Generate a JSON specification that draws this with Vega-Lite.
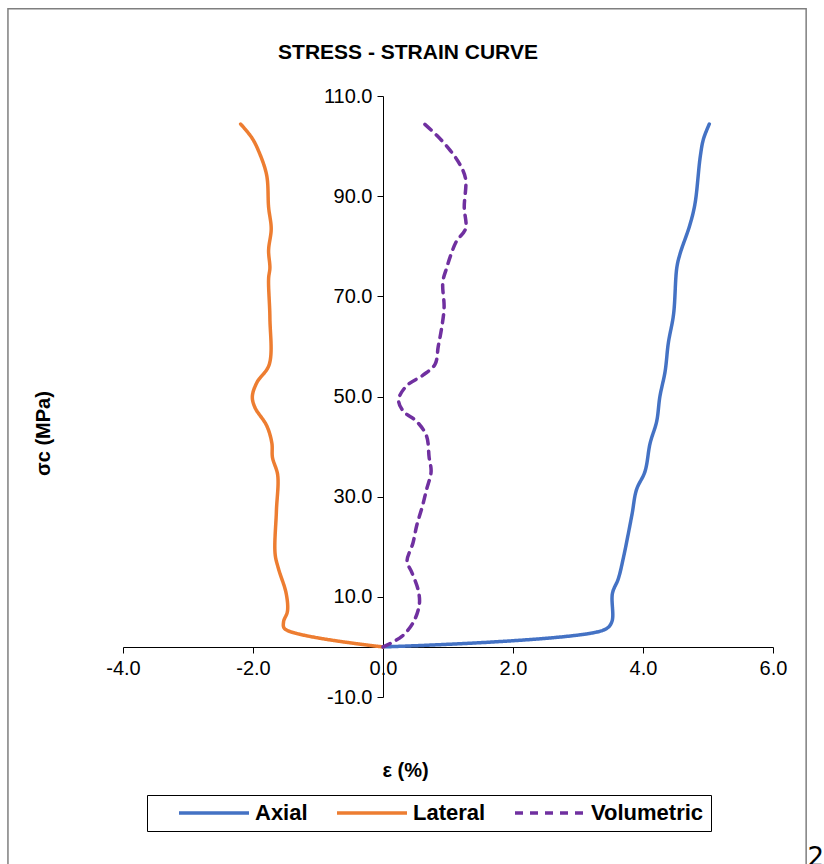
{
  "$schema": "https://vega.github.io/schema/vega-lite/v6.json",
  "width": 650,
  "height": 601,
  "autosize": {"type": "none"},
  "padding": {"left": 123, "top": 96, "right": 51, "bottom": 167},
  "background": "white",
  "config": {
    "view": {"stroke": null},
    "font": "Liberation Sans"
  },
  "title": {
    "text": "STRESS - STRAIN CURVE",
    "font": "Liberation Sans",
    "fontSize": 21,
    "fontWeight": "bold",
    "color": "black",
    "frame": "group",
    "anchor": "middle",
    "dx": -40,
    "offset": -55
  },
  "datasets": {
    "curves": [
      {"s": "Axial", "i": 0, "x": 0, "y": 0},
      {"s": "Axial", "i": 1, "x": 3.4, "y": 3.4},
      {"s": "Axial", "i": 2, "x": 3.52, "y": 5.0},
      {"s": "Axial", "i": 3, "x": 3.53, "y": 10.7},
      {"s": "Axial", "i": 4, "x": 3.62, "y": 13.6},
      {"s": "Axial", "i": 5, "x": 3.70, "y": 17.9},
      {"s": "Axial", "i": 6, "x": 3.83, "y": 26.4},
      {"s": "Axial", "i": 7, "x": 3.90, "y": 31.4},
      {"s": "Axial", "i": 8, "x": 4.03, "y": 35.0},
      {"s": "Axial", "i": 9, "x": 4.11, "y": 40.7},
      {"s": "Axial", "i": 10, "x": 4.21, "y": 45.0},
      {"s": "Axial", "i": 11, "x": 4.26, "y": 50.0},
      {"s": "Axial", "i": 12, "x": 4.34, "y": 55.0},
      {"s": "Axial", "i": 13, "x": 4.39, "y": 60.7},
      {"s": "Axial", "i": 14, "x": 4.47, "y": 66.4},
      {"s": "Axial", "i": 15, "x": 4.52, "y": 75.7},
      {"s": "Axial", "i": 16, "x": 4.57, "y": 78.5},
      {"s": "Axial", "i": 17, "x": 4.72, "y": 84.2},
      {"s": "Axial", "i": 18, "x": 4.80, "y": 88.5},
      {"s": "Axial", "i": 19, "x": 4.88, "y": 97.8},
      {"s": "Axial", "i": 20, "x": 4.93, "y": 101.4},
      {"s": "Axial", "i": 21, "x": 5.02, "y": 104.4},
      {"s": "Lateral", "i": 0, "x": 0, "y": 0},
      {"s": "Lateral", "i": 1, "x": -1.51, "y": 3.6},
      {"s": "Lateral", "i": 2, "x": -1.53, "y": 5.0},
      {"s": "Lateral", "i": 3, "x": -1.47, "y": 7.1},
      {"s": "Lateral", "i": 4, "x": -1.49, "y": 10.7},
      {"s": "Lateral", "i": 5, "x": -1.61, "y": 15.7},
      {"s": "Lateral", "i": 6, "x": -1.66, "y": 18.6},
      {"s": "Lateral", "i": 7, "x": -1.64, "y": 27.1},
      {"s": "Lateral", "i": 8, "x": -1.62, "y": 34.3},
      {"s": "Lateral", "i": 9, "x": -1.70, "y": 37.8},
      {"s": "Lateral", "i": 10, "x": -1.71, "y": 40.7},
      {"s": "Lateral", "i": 11, "x": -1.79, "y": 44.2},
      {"s": "Lateral", "i": 12, "x": -1.97, "y": 47.8},
      {"s": "Lateral", "i": 13, "x": -2.01, "y": 50.0},
      {"s": "Lateral", "i": 14, "x": -1.94, "y": 52.8},
      {"s": "Lateral", "i": 15, "x": -1.75, "y": 56.4},
      {"s": "Lateral", "i": 16, "x": -1.74, "y": 65.7},
      {"s": "Lateral", "i": 17, "x": -1.76, "y": 73.5},
      {"s": "Lateral", "i": 18, "x": -1.74, "y": 75.7},
      {"s": "Lateral", "i": 19, "x": -1.76, "y": 79.2},
      {"s": "Lateral", "i": 20, "x": -1.72, "y": 83.5},
      {"s": "Lateral", "i": 21, "x": -1.76, "y": 87.8},
      {"s": "Lateral", "i": 22, "x": -1.79, "y": 94.2},
      {"s": "Lateral", "i": 23, "x": -1.92, "y": 99.2},
      {"s": "Lateral", "i": 24, "x": -2.02, "y": 101.7},
      {"s": "Lateral", "i": 25, "x": -2.19, "y": 104.4},
      {"s": "Volumetric", "i": 0, "x": 0, "y": 0},
      {"s": "Volumetric", "i": 1, "x": 0.29, "y": 2.1},
      {"s": "Volumetric", "i": 2, "x": 0.47, "y": 5.0},
      {"s": "Volumetric", "i": 3, "x": 0.56, "y": 8.6},
      {"s": "Volumetric", "i": 4, "x": 0.54, "y": 11.4},
      {"s": "Volumetric", "i": 5, "x": 0.44, "y": 15.0},
      {"s": "Volumetric", "i": 6, "x": 0.37, "y": 17.1},
      {"s": "Volumetric", "i": 7, "x": 0.46, "y": 20.7},
      {"s": "Volumetric", "i": 8, "x": 0.52, "y": 24.3},
      {"s": "Volumetric", "i": 9, "x": 0.60, "y": 27.8},
      {"s": "Volumetric", "i": 10, "x": 0.67, "y": 31.4},
      {"s": "Volumetric", "i": 11, "x": 0.74, "y": 35.0},
      {"s": "Volumetric", "i": 12, "x": 0.71, "y": 37.8},
      {"s": "Volumetric", "i": 13, "x": 0.67, "y": 42.1},
      {"s": "Volumetric", "i": 14, "x": 0.52, "y": 45.0},
      {"s": "Volumetric", "i": 15, "x": 0.31, "y": 47.1},
      {"s": "Volumetric", "i": 16, "x": 0.24, "y": 49.3},
      {"s": "Volumetric", "i": 17, "x": 0.36, "y": 52.1},
      {"s": "Volumetric", "i": 18, "x": 0.62, "y": 54.3},
      {"s": "Volumetric", "i": 19, "x": 0.80, "y": 56.4},
      {"s": "Volumetric", "i": 20, "x": 0.85, "y": 60.0},
      {"s": "Volumetric", "i": 21, "x": 0.90, "y": 63.5},
      {"s": "Volumetric", "i": 22, "x": 0.94, "y": 67.8},
      {"s": "Volumetric", "i": 23, "x": 0.92, "y": 72.8},
      {"s": "Volumetric", "i": 24, "x": 0.98, "y": 75.7},
      {"s": "Volumetric", "i": 25, "x": 1.05, "y": 78.5},
      {"s": "Volumetric", "i": 26, "x": 1.13, "y": 81.0},
      {"s": "Volumetric", "i": 27, "x": 1.27, "y": 83.5},
      {"s": "Volumetric", "i": 28, "x": 1.25, "y": 87.8},
      {"s": "Volumetric", "i": 29, "x": 1.27, "y": 93.5},
      {"s": "Volumetric", "i": 30, "x": 1.18, "y": 96.4},
      {"s": "Volumetric", "i": 31, "x": 1.03, "y": 99.2},
      {"s": "Volumetric", "i": 32, "x": 0.83, "y": 102.1},
      {"s": "Volumetric", "i": 33, "x": 0.64, "y": 104.4}
    ]
  },
  "layer": [
    {
      "data": {"values": [{}]},
      "mark": {"type": "rect", "fill": null, "stroke": "#7f7f7f", "strokeWidth": 1.5, "clip": false},
      "encoding": {
        "x": {"datum": -5.77, "type": "quantitative", "scale": {"domain": [-4, 6], "nice": false, "zero": false}},
        "x2": {"datum": 6.51},
        "y": {"datum": 127.4, "type": "quantitative", "scale": {"domain": [-10, 110], "nice": false, "zero": false}},
        "y2": {"datum": -60}
      }
    },
    {
      "data": {"values": [{}]},
      "mark": {"type": "text", "font": "DejaVu Sans", "fontSize": 26, "align": "left", "baseline": "alphabetic", "color": "black", "clip": false},
      "encoding": {
        "x": {"datum": 6.53, "type": "quantitative"},
        "y": {"datum": -43.7, "type": "quantitative"},
        "text": {"value": "2"}
      }
    },
    {
      "data": {"name": "curves"},
      "mark": {"type": "line", "strokeWidth": 3.5, "interpolate": "catmull-rom", "strokeCap": "round", "clip": false},
      "encoding": {
        "x": {
          "field": "x",
          "type": "quantitative",
          "scale": {"domain": [-4, 6], "nice": false, "zero": false},
          "axis": {
            "title": "ε (%)",
            "titleFont": "Liberation Sans",
            "titleFontSize": 20,
            "titleFontWeight": "bold",
            "titleColor": "black",
            "titleX": 282,
            "titleY": 123,
            "titleBaseline": "middle",
            "titleAlign": "center",
            "offset": -50,
            "values": [-4, -2, 0, 2, 4, 6],
            "labelExpr": "datum.value < 0 ? '-' + format(-datum.value, '.1f') : format(datum.value, '.1f')",
            "labelFont": "Liberation Sans",
            "labelFontSize": 20,
            "labelColor": "black",
            "labelPadding": 5,
            "labelFlush": false,
            "labelOverlap": false,
            "tickSize": 6,
            "tickColor": "black",
            "domainColor": "black",
            "grid": false
          }
        },
        "y": {
          "field": "y",
          "type": "quantitative",
          "scale": {"domain": [-10, 110], "nice": false, "zero": false},
          "axis": {
            "title": "σc (MPa)",
            "titleFont": "Liberation Sans",
            "titleFontSize": 20,
            "titleFontWeight": "bold",
            "titleColor": "black",
            "titleX": -340,
            "titleY": 337,
            "titleAngle": -90,
            "titleBaseline": "middle",
            "titleAlign": "center",
            "offset": -260,
            "values": [-10, 10, 30, 50, 70, 90, 110],
            "labelExpr": "datum.value < 0 ? '-' + format(-datum.value, '.1f') : format(datum.value, '.1f')",
            "labelFont": "Liberation Sans",
            "labelFontSize": 20,
            "labelColor": "black",
            "labelPadding": 5,
            "labelFlush": false,
            "labelOverlap": false,
            "tickSize": 6,
            "tickColor": "black",
            "domainColor": "black",
            "grid": false
          }
        },
        "order": {"field": "i", "type": "quantitative"},
        "color": {
          "field": "s",
          "type": "nominal",
          "scale": {"domain": ["Axial", "Lateral", "Volumetric"], "range": ["#4472C4", "#ED7D31", "#7030A0"]},
          "legend": {
            "orient": "none",
            "legendX": 24,
            "legendY": 699,
            "direction": "horizontal",
            "title": "\u00a0\u00a0",
            "titleOrient": "left",
            "titleFontSize": 21,
            "titlePadding": 14,
            "labelExpr": "datum.label == 'Volumetric' ? 'Volumetric\u2003' : datum.label",
            "labelFont": "Liberation Sans",
            "labelFontSize": 22,
            "labelFontWeight": "bold",
            "labelColor": "black",
            "labelOffset": 65,
            "columnPadding": 18,
            "symbolType": "M0,0L14,0",
            "symbolSize": 100,
            "symbolStrokeWidth": 3.5,
            "padding": 7,
            "strokeColor": "black"
          }
        },
        "strokeDash": {
          "field": "s",
          "type": "nominal",
          "scale": {"domain": ["Axial", "Lateral", "Volumetric"], "range": [[1, 0], [1, 0], [8, 7]]},
          "legend": null
        }
      }
    }
  ]
}
